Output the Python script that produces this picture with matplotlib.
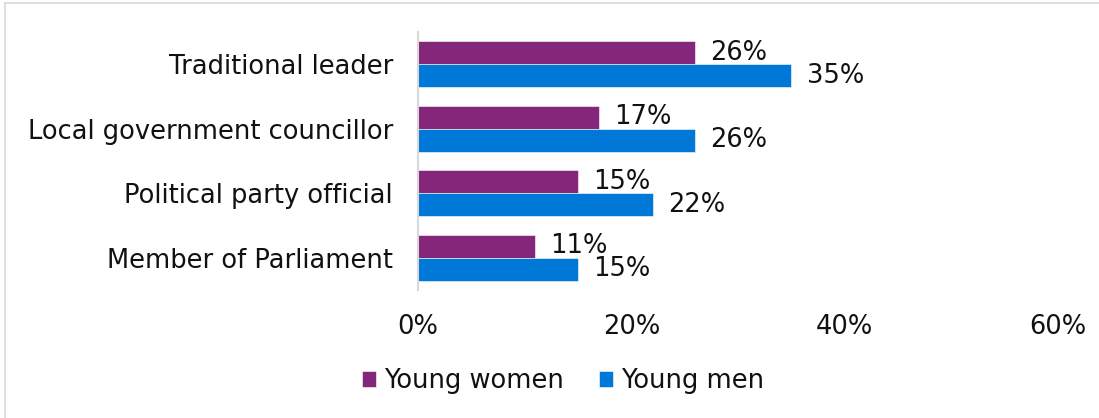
import matplotlib
matplotlib.use("Agg")
import matplotlib.pyplot as plt
from matplotlib.lines import Line2D
import numpy as np

categories = ["Traditional leader", "Local government councillor",
              "Political party official", "Member of Parliament"]
young_women = [26, 17, 15, 11]
young_men = [35, 26, 22, 15]
series_names = ["Young women", "Young men"]
xticks = [0, 20, 40, 60]

purple = "#84277A"
blue = "#0078D7"

plt.rcParams['font.family'] = ['DejaVu Sans']
fs = 18.5

fig = plt.figure(figsize=(10.99, 4.18), dpi=100)
ax = fig.add_axes([418/1099, 1-290/418, (1058-418)/1099, (290-32)/418])

y = np.arange(len(categories))
h = 0.357
b1 = ax.barh(y - h/2, young_women, height=h, color=purple, label=series_names[0],
             edgecolor="white", linewidth=0.4)
b2 = ax.barh(y + h/2, young_men, height=h, color=blue, label=series_names[1],
             edgecolor="white", linewidth=0.4)

for bars, vals in ((b1, young_women), (b2, young_men)):
    for rect, v in zip(bars, vals):
        ax.annotate(f"{v}%", (rect.get_width(), rect.get_y() + rect.get_height()/2),
                    xytext=(11, 0), textcoords="offset points",
                    ha="left", va="center", fontsize=fs, color="#111111")

ax.set_ylim(len(categories) - 0.5, -0.5)
ax.set_xlim(0, 60)
ax.set_xticks(xticks)
ax.set_xticklabels([f"{t}%" for t in xticks], fontsize=fs, color="#111111")
ax.set_yticks(y)
ax.set_yticklabels(categories, fontsize=fs, color="#111111")
ax.tick_params(axis="both", length=0)
ax.tick_params(axis="x", pad=17)
ax.tick_params(axis="y", pad=18)
for s in ["top", "right", "bottom"]:
    ax.spines[s].set_visible(False)
ax.spines["left"].set_color("#d9d9d9")
ax.spines["left"].set_linewidth(1.5)

leg = fig.legend(handles=[b1, b2], labels=series_names, loc="center",
                 bbox_to_anchor=(563/1099, 1-381/418), ncol=2, frameon=False,
                 fontsize=fs, handlelength=0.55, handleheight=0.55,
                 handletextpad=0.3, columnspacing=1.35)
for t in leg.get_texts():
    t.set_color("#111111")

# chart border (top and left)
fig.add_artist(Line2D([5/1099, 5/1099], [0, 1-3/418], transform=fig.transFigure,
                      color="#d9d9d9", lw=1.2))
fig.add_artist(Line2D([5/1099, 1], [1-3/418, 1-3/418], transform=fig.transFigure,
                      color="#d9d9d9", lw=1.2))

fig.savefig("out.png", dpi=100)
